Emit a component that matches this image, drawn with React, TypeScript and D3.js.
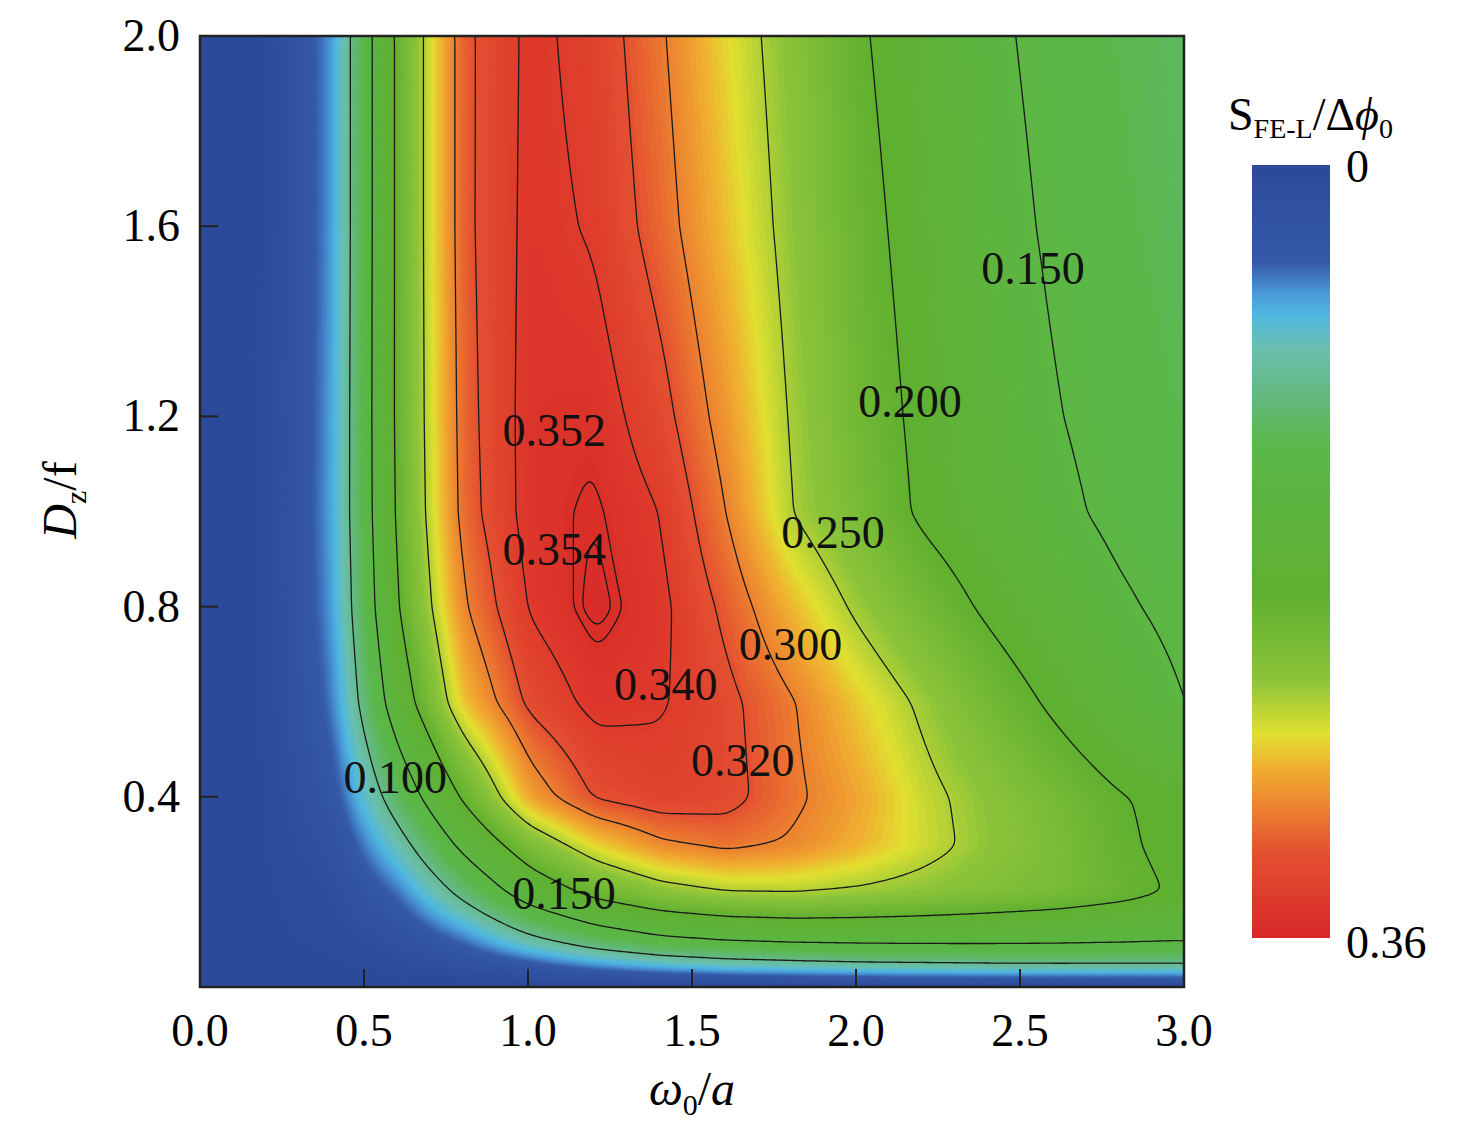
import React from "react";
import * as d3 from "d3";

const xCols = [0, 0.2, 0.4, 0.6, 0.8, 1.0, 1.2, 1.4, 1.6, 1.8, 2.0, 2.2, 2.4, 2.6, 2.8, 3.0];
const dRows = [2.0, 1.6, 1.2, 1.0, 0.8, 0.6, 0.4, 0.3, 0.2, 0.1, 0.05, 0.02, 0.0];
const field = [
  [0, 0.003, 0.06, 0.21, 0.315, 0.345, 0.333, 0.303, 0.267, 0.235, 0.204, 0.183, 0.157, 0.14, 0.128, 0.12],
  [0, 0.003, 0.06, 0.21, 0.315, 0.346, 0.338, 0.31, 0.275, 0.24, 0.21, 0.188, 0.163, 0.145, 0.132, 0.122],
  [0, 0.004, 0.062, 0.21, 0.312, 0.348, 0.35, 0.328, 0.29, 0.247, 0.216, 0.193, 0.172, 0.152, 0.138, 0.128],
  [0, 0.004, 0.063, 0.208, 0.31, 0.348, 0.354, 0.34, 0.3, 0.25, 0.222, 0.195, 0.178, 0.158, 0.142, 0.132],
  [0, 0.004, 0.06, 0.2, 0.298, 0.342, 0.357, 0.345, 0.315, 0.278, 0.245, 0.218, 0.195, 0.175, 0.155, 0.14],
  [0, 0.004, 0.052, 0.175, 0.275, 0.325, 0.346, 0.342, 0.326, 0.302, 0.272, 0.245, 0.218, 0.195, 0.172, 0.15],
  [0, 0.003, 0.035, 0.12, 0.205, 0.285, 0.322, 0.332, 0.328, 0.305, 0.285, 0.258, 0.238, 0.22, 0.202, 0.19],
  [0, 0.003, 0.022, 0.085, 0.16, 0.225, 0.268, 0.295, 0.305, 0.297, 0.28, 0.26, 0.24, 0.225, 0.205, 0.19],
  [0, 0.002, 0.012, 0.05, 0.11, 0.17, 0.21, 0.235, 0.248, 0.25, 0.245, 0.238, 0.23, 0.222, 0.21, 0.195],
  [0, 0.001, 0.006, 0.02, 0.05, 0.09, 0.12, 0.14, 0.15, 0.155, 0.157, 0.158, 0.158, 0.157, 0.155, 0.152],
  [0, 0, 0.002, 0.008, 0.02, 0.04, 0.06, 0.075, 0.085, 0.09, 0.095, 0.097, 0.099, 0.1, 0.1, 0.1],
  [0, 0, 0, 0.002, 0.005, 0.01, 0.018, 0.025, 0.03, 0.033, 0.036, 0.038, 0.04, 0.04, 0.04, 0.04],
  [0, 0, 0, 0, 0, 0, 0, 0, 0, 0, 0, 0, 0, 0, 0, 0],
];
const levels = [0.1, 0.15, 0.2, 0.25, 0.3, 0.32, 0.34, 0.352, 0.354];
const labels = [
  { t: "0.150", x: 2.54, d: 1.5 }, { t: "0.200", x: 2.165, d: 1.22 }, { t: "0.250", x: 1.93, d: 0.945 },
  { t: "0.300", x: 1.8, d: 0.71 }, { t: "0.352", x: 1.08, d: 1.16 }, { t: "0.354", x: 1.08, d: 0.91 },
  { t: "0.340", x: 1.42, d: 0.625 }, { t: "0.320", x: 1.655, d: 0.467 }, { t: "0.100", x: 0.595, d: 0.43 },
  { t: "0.150", x: 1.11, d: 0.187 },
];
const xTicks = [0, 0.5, 1.0, 1.5, 2.0, 2.5, 3.0];
const yTicks = [0.4, 0.8, 1.2, 1.6, 2.0];
const cStops: [number, string][] = [
  [0, "#2c4a9a"], [0.045, "#3558a8"], [0.06, "#4a9ad8"], [0.07, "#50b8e0"], [0.085, "#6abfb0"],
  [0.11, "#62b878"], [0.13, "#5ab84a"], [0.2, "#60b030"], [0.24, "#8cc43a"], [0.265, "#e0e030"],
  [0.28, "#f0b030"], [0.3, "#ec8030"], [0.32, "#e45030"], [0.36, "#d82828"],
];
const color = d3.scaleLinear<string>().domain(cStops.map(s => s[0])).range(cStops.map(s => s[1])).clamp(true);

function sample(x: number, d: number) {
  let i = d3.bisectLeft(xCols, x); i = Math.max(1, Math.min(xCols.length - 1, i));
  const tx = (x - xCols[i - 1]) / (xCols[i] - xCols[i - 1]);
  let j = 0; while (j < dRows.length - 2 && dRows[j + 1] > d) j++;
  const ty = (dRows[j] - d) / (dRows[j] - dRows[j + 1]);
  const a = field[j][i - 1] * (1 - tx) + field[j][i] * tx;
  const b = field[j + 1][i - 1] * (1 - tx) + field[j + 1][i] * tx;
  return a * (1 - ty) + b * ty;
}

const L = 200, R = 1184, T = 36, B = 987;
const NX = 300, NY = 380;
const xs = d3.scaleLinear().domain([0, 3]).range([L, R]);
const ys = d3.scaleLinear().domain([0, 2]).range([B, T]);

export default function App() {
  const grid: number[] = [];
  for (let r = 0; r < NY; r++) for (let c = 0; c < NX; c++) {
    grid.push(sample((c / (NX - 1)) * 3, 2 - (r / (NY - 1)) * 2));
  }
  const sm = grid.slice();
  for (let pass = 0; pass < 7; pass++) {
    const src = sm.slice();
    for (let r = 1; r < NY - 1; r++) for (let c = 1; c < NX - 1; c++) {
      let s = 0; for (let a = -1; a <= 1; a++) for (let b = -1; b <= 1; b++) s += src[(r + a) * NX + c + b];
      sm[r * NX + c] = s / 9;
    }
  }
  const proj = d3.geoTransform({
    point(px: number, py: number) {
      this.stream.point(L + (px / (NX - 1)) * (R - L), T + (py / (NY - 1)) * (B - T));
    },
  });
  const path = d3.geoPath(proj);
  const fillTh = d3.range(0, 0.362, 0.003);
  const fills = d3.contours().size([NX, NY]).thresholds(fillTh)(sm);
  const lines = d3.contours().size([NX, NY]).thresholds(levels)(sm);
  const font = "Liberation Serif, Times New Roman, serif";
  return (
    <svg width={1476} height={1140} style={{ position: "absolute", left: 0, top: 0 }} fontFamily={font}>
      <defs>
        <clipPath id="pc"><rect x={L} y={T} width={R - L} height={B - T} /></clipPath>
        <linearGradient id="cb" x1="0" y1="0" x2="0" y2="1">
          {cStops.map((s, i) => <stop key={i} offset={s[0] / 0.36} stopColor={s[1]} />)}
        </linearGradient>
      </defs>
      <g clipPath="url(#pc)">
        <rect x={L} y={T} width={R - L} height={B - T} fill={color(0)} />
        {fills.map((f, i) => <path key={i} d={path(f as any) || ""} fill={color(f.value + 0.0015)} stroke={color(f.value + 0.0015)} strokeWidth={0.6} />)}
        {lines.map((f, i) => <path key={i} d={path(f as any) || ""} fill="none" stroke="#1a1a1a" strokeWidth={1.3} />)}
      </g>
      {labels.map((l, i) => (
        <text key={i} x={xs(l.x)} y={ys(l.d)} fontSize={46} textAnchor="middle" dominantBaseline="middle" fill="#111">{l.t}</text>
      ))}
      <rect x={L} y={T} width={R - L} height={B - T} fill="none" stroke="#222" strokeWidth={2.5} />
      {xTicks.map(t => (
        <g key={t}>
          <line x1={xs(t)} x2={xs(t)} y1={B} y2={B - 18} stroke="#222" strokeWidth={2} />
          <text x={xs(t)} y={1046} fontSize={46} textAnchor="middle">{t.toFixed(1)}</text>
        </g>
      ))}
      {yTicks.map(t => (
        <g key={t}>
          <line x1={L} x2={L + 18} y1={ys(t)} y2={ys(t)} stroke="#222" strokeWidth={2} />
          <text x={180} y={ys(t) + 15} fontSize={46} textAnchor="end">{t.toFixed(1)}</text>
        </g>
      ))}
      <text x={692} y={1105} fontSize={48} textAnchor="middle">
        <tspan fontStyle="italic">ω</tspan><tspan fontSize={30} dy={10}>0</tspan><tspan dy={-10}>/</tspan><tspan fontStyle="italic">a</tspan>
      </text>
      <text transform="translate(76,500) rotate(-90)" fontSize={48} textAnchor="middle">
        <tspan fontStyle="italic">D</tspan><tspan fontSize={30} dy={10}>z</tspan><tspan dy={-10}>/f</tspan>
      </text>
      <rect x={1252} y={165} width={78} height={773} fill="url(#cb)" />
      <text x={1228} y={130} fontSize={46}>
        <tspan>S</tspan><tspan fontSize={28} dy={8}>FE-L</tspan><tspan dy={-8}>/Δ</tspan><tspan fontStyle="italic">ϕ</tspan><tspan fontSize={28} dy={8}>0</tspan>
      </text>
      <text x={1346} y={182} fontSize={46}>0</text>
      <text x={1346} y={958} fontSize={46}>0.36</text>
    </svg>
  );
}
